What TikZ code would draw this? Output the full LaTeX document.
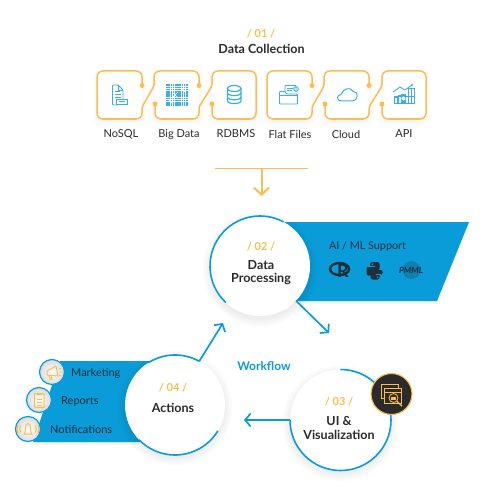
\documentclass[tikz,border=0pt]{standalone}
\usepackage{fontspec}
\setmainfont{Lato}
\usetikzlibrary{arrows.meta}
\definecolor{ob}{HTML}{FBBE4E}
\definecolor{bb}{HTML}{0A9CD8}
\definecolor{ic}{HTML}{39AFE6}
\definecolor{ink}{HTML}{2B2B2B}
\definecolor{navy}{HTML}{1E2F3C}
\newcommand\softcircle[3]{\foreach \rr in {0,1.5,...,7.5}{\fill[black,opacity=.012] (#1,#2+3) circle[radius=#3+\rr pt];}}
\tikzset{
  orangeline/.style={draw=ob,line width=1.5pt,rounded corners=6pt},
  orangedot/.style={fill=ob},
  blueline/.style={draw=bb,line width=1.6pt},
  bluearrow/.style={draw=bb,line width=1.7pt,-{Straight Barb[length=5.5pt,width=13pt,line width=1.7pt]}},
  iconline/.style={draw=ic,line width=.9pt,fill=none},
  iconorange/.style={draw=ob,line width=1pt,fill=none},
  stepnum/.style={text=ob,font=\fontsize{11}{12}\selectfont\bfseries,inner sep=0pt},
  title/.style={text=ink,font=\fontsize{12.5}{14}\selectfont\bfseries,align=center,inner sep=0pt},
  lbl/.style={text=ink,font=\fontsize{11}{13}\selectfont,inner sep=0pt},
  lbld/.style={text=navy,font=\fontsize{11}{13}\selectfont,inner sep=0pt},
  bigcircle/.style={circle,fill=white,minimum size=#1,inner sep=0pt,outer sep=0pt},
  bubble/.style={circle,draw=bb,line width=1.2pt,inner color=white,outer color=black!14,minimum size=25pt,inner sep=0pt,outer sep=0pt},
}
\begin{document}
\begin{tikzpicture}[x=1pt,y=1pt,yscale=-1]
\useasboundingbox (0,0) rectangle (486,500);
% ---------- top
\node[stepnum] (n1) at (261,33.5) {/ 01 /};
\node[title] (t1) at (261.5,49) {Data Collection};
\foreach \dx in {0,170}{
 \begin{scope}[xshift=\dx pt]
  \foreach \a/\b in {97/142,154/199,212/256}{
    \foreach \s in {0,1,...,4}{\fill[black,opacity=.007,rounded corners=7pt] (\a-\s,71-\s+2) rectangle (\b+\s,119+\s+2);}
  }
  \fill[white,rounded corners=6pt] (97,71) rectangle (142,119);
  \fill[white,rounded corners=6pt] (154,71) rectangle (199,119);
  \fill[white,rounded corners=6pt] (212,71) rectangle (256,119);
  \draw[orangeline] (142,85.5) -- (142,71) -- (97,71) -- (97,119) -- (142,119) [rounded corners=1.5pt] -- (142,107) -- (154,86) [rounded corners=6pt] -- (154,71) -- (199,71) -- (199,85.5);
  \draw[orangeline] (155,104) -- (155,119) -- (199,119) [rounded corners=1.5pt] -- (199,107) -- (212,86) [rounded corners=6pt] -- (212,71) -- (256,71) -- (256,119) -- (212,119) -- (212,104);
  \foreach \p/\q in {142/85.5,199/85.5,155/104,212/104}{\fill[orangedot] (\p,\q) circle[radius=2.5pt];}
 \end{scope}
}
\node[lbl] (a1) at (121,134) {NoSQL};
\node[lbl] (a2) at (179,134) {Big Data};
\node[lbl] (a3) at (236,134) {RDBMS};
\node[lbl] (a4) at (290,134) {Flat Files};
\node[lbl] (a5) at (346,134) {Cloud};
\node[lbl] (a6) at (404,134) {API};
% NoSQL icon
\draw[iconline,rounded corners=.8pt] (123,99) -- (123,90) -- (118,85) -- (112.5,85) -- (112.5,105) -- (117,105);
\draw[iconline] (118,85) -- (118,90) -- (123,90);
\draw[iconline] (115,91) -- (120,91) (115,94) -- (121,94) (115,97) -- (121,97);
\fill[white] (116.5,99) rectangle (127,104.5);
\draw[iconline] (116.5,99) rectangle (127,104.5);
\draw[ic,line width=.6pt] (119,101.8) -- (124.5,101.8);
% Big Data icon
\foreach \i in {0,...,9}{\foreach \j in {0,...,9}{
  \fill[ic] (166.2+\i*2.2,84.5+\j*2.2) rectangle ++(1.5,1.5);}}
\draw[white,line width=.5pt] (172,92) -- (178,98) (178,92) -- (172,98) (181,88) -- (186,93) (168,99) -- (173,104);
% RDBMS icon
\draw[ic,line width=1.2pt] (227.5,88.5) -- (227.5,101) arc[start angle=180,end angle=0,x radius=6.7pt,y radius=2.6pt]
  (240.9,101) -- (240.9,88.5);
\draw[ic,line width=1.2pt] (234.2,88.5) ellipse[x radius=6.7pt,y radius=3pt];
\draw[ic,line width=1.2pt] (227.5,93) arc[start angle=180,end angle=0,x radius=6.7pt,y radius=2.6pt];
\draw[ic,line width=1.2pt] (227.5,97.2) arc[start angle=180,end angle=0,x radius=6.7pt,y radius=2.6pt];
% Flat files icon
\draw[iconline,rounded corners=.8pt] (285,92) -- (285,85.5) -- (296,85.5) -- (296,92);
\draw[iconline] (287,88) -- (293,88) (287,90.5) -- (292,90.5);
\draw[iconline] (296,89) circle[radius=2.3pt];
\draw[iconline,fill=white,rounded corners=.8pt] (279.5,104) -- (279.5,91.5) -- (285,91.5) -- (286.5,94) -- (297.5,94) -- (297.5,104) -- cycle;
\draw[iconline] (279.5,95.5) -- (297.5,95.5);
% Cloud icon
\draw[ic,line width=1pt,rounded corners=.5pt] (342,101) .. controls (336,101) and (336.5,94.5) .. (341.5,94.5)
  .. controls (342.5,89) and (350.5,86) .. (353.5,92) .. controls (359,91) and (358,101) .. (352,101) -- cycle;
% API icon
\foreach \x/\h in {408/88,411/88,394/97,398/95}{\draw[iconline] (\x,103) rectangle (\x+3,\h);}
\draw[iconline] (394,96.5) rectangle (414.5,103);
\fill[ic] (401,94) rectangle (406,103);
\fill[white] (403.5,98.5) circle[radius=2pt];
\draw[iconline] (393,92) -- (400,87) -- (405,90) -- (412,85);
\fill[ic] (412,85) circle[radius=1.2pt];
% ---------- arrow down
\coordinate (barL) at (215,168.5);
\coordinate (barR) at (308,168.5);
\coordinate (barM) at (261.5,168.5);
\coordinate (barT) at (261.5,196);
\draw[ob,line width=1.7pt] (barL) -- (barR);
\draw[ob,line width=2pt,-{Straight Barb[length=7pt,width=15pt,line width=2pt]}] (barM) -- (barT);
% ---------- processing
\fill[black,opacity=.04] (285,224) -- (469,224) -- (437.5,303.5) -- (296,303.5) -- cycle;
\fill[bb] (282,222) -- (469,222) -- (437,301) -- (296,301) -- cycle;
\softcircle{260}{266}{50}
\node[bigcircle=100pt] (dp) at (260,266) {};
\draw[blueline] (dp.center) ++(133:50pt) arc[start angle=133,end angle=298,radius=50pt];
\node[stepnum] (n2) at (261,246.5) {/ 02 /};
\node[title,font=\fontsize{12.5}{13.5}\selectfont\bfseries] (t2) at (261,272.5) {Data\\Processing};
\node[lbld,font=\fontsize{10.8}{13}\selectfont] (ml) at (367.5,246) {AI / ML Support};
% logos
\draw[navy,line width=2.4pt] (339.5,269) ellipse[x radius=9.5pt,y radius=6pt];
\node[text=navy,font=\fontsize{18}{18}\selectfont\bfseries,inner sep=0pt] (rlogo) at (343,271) {R};
% python logo
\fill[navy,rounded corners=2pt] (370,262) rectangle (379.5,270.5);
\fill[navy,rounded corners=2pt] (366.5,266.5) rectangle (375,275.5);
\fill[navy,rounded corners=2pt] (371,270) rectangle (382.5,275);
\fill[navy,rounded corners=2pt] (370.5,273) rectangle (379.5,279.5);
\draw[bb,line width=.7pt] (368,266.7) -- (374.5,266.7) (375.5,274.8) -- (381,274.8);
\fill[bb] (372.5,264.3) circle[radius=.9pt] (377.5,277.3) circle[radius=.9pt];
\fill[navy,opacity=.25] (411.5,270) circle[radius=9pt];
\node[text=navy,font=\fontsize{8.5}{10}\selectfont\bfseries\itshape,inner sep=0pt] (pmml) at (411,270) {PMML};
\coordinate (dpEnd) at (329,333);
\draw[bluearrow] (dp.-44) -- (dpEnd);
% ---------- UI
\softcircle{340.5}{420}{50.5}
\node[bigcircle=101pt] (ui) at (340.5,420) {};
\draw[blueline] (ui.center) ++(270:50.5pt) arc[start angle=270,end angle=540,radius=50.5pt];
\coordinate (uiEnd) at (244,420);
\draw[bluearrow] (ui.west) -- (uiEnd);
\node[stepnum] (n3) at (339,402) {/ 03 /};
\node[title,font=\fontsize{12.5}{14}\selectfont\bfseries] (t3) at (339,428) {UI \&\\Visualization};
\node[circle,draw=ob,line width=1.1pt,fill=ink,minimum size=41pt,inner sep=0pt] (badge) at (391.5,394) {};
\draw[ob,line width=.8pt] (381,384) rectangle (398,398);
\draw[ob,line width=.8pt,fill=ink] (384,388) rectangle (401,403);
\draw[ob,line width=.6pt] (384,392) -- (401,392);
\draw[ob,line width=.8pt,fill=ink] (393.5,398) circle[radius=4.5pt];
\draw[ob,line width=1.4pt] (397,401.5) -- (402,406);
\fill[ob] (391,397) rectangle (396,399.5);
% ---------- actions
\fill[black,opacity=.04] (60,363) -- (150,363) -- (140,444.5) -- (35,444.5) -- cycle;
\fill[bb] (60,361) -- (150,361) -- (140,442) -- (33,442) -- cycle;
\softcircle{175}{405}{50}
\node[bigcircle=100pt] (ac) at (175,405) {};
\draw[blueline] (ac.center) ++(31:50pt) arc[start angle=31,end angle=136,radius=50pt];
\draw[blueline] (ac.center) ++(238:50pt) arc[start angle=238,end angle=299,radius=50pt];
\coordinate (acEnd) at (223,323);
\draw[bluearrow] (ac.61) -- (acEnd);
\node[stepnum] (n4) at (173,388) {/ 04 /};
\node[title] (t4) at (173,408) {Actions};
\node[bubble] (b1) at (52,372) {};
\node[bubble] (b2) at (39,400) {};
\node[bubble] (b3) at (28,429) {};
\node[lbld,anchor=west] (l1) at (71,373.5) {Marketing};
\node[lbld,anchor=west] (l2) at (61,401) {Reports};
\node[lbld,anchor=west] (l3) at (50,429) {Notifications};
% bubble icons
\draw[iconorange,rounded corners=.6pt] (47,371) -- (56,366) -- (58,376) -- (47,375) -- cycle;
\draw[iconorange] (49,375.5) -- (50,379) -- (52,379) -- (51.5,375.5);
\draw[iconorange] (59,369) -- (61,368) (60,372) -- (62,372) (59,375) -- (61,376);
\draw[iconorange,rounded corners=.8pt] (34.5,393.5) rectangle (44,407.5);
\fill[ob] (37,392.5) rectangle (41.5,395);
\draw[iconorange] (37,399) -- (41.5,399) (37,402) -- (41.5,402) (37,405) -- (41.5,405);
\draw[iconorange] (23.5,434) -- (32.5,434) (24.5,434) .. controls (26,431) and (24.5,423.5) .. (28,423.5) .. controls (31.5,423.5) and (30,431) .. (31.5,434);
\draw[iconorange] (20.5,425.5) .. controls (19.5,428) and (19.5,430) .. (20.5,432.5)
  (35.5,425.5) .. controls (36.5,428) and (36.5,430) .. (35.5,432.5)
  (18,424.5) .. controls (16.8,428) and (16.8,431) .. (18,434)
  (38,424.5) .. controls (39.2,428) and (39.2,431) .. (38,434);
% ---------- centre
\node[text=bb,font=\fontsize{12}{14}\selectfont\bfseries,inner sep=0pt] (wf) at (264,366) {Workflow};
\end{tikzpicture}
\end{document}
